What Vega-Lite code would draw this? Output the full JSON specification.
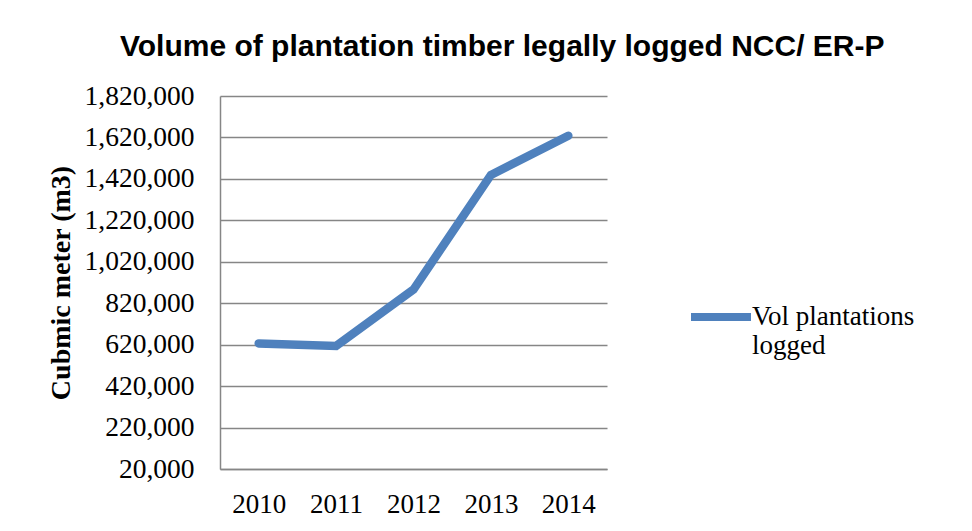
{
  "$schema": "https://vega.github.io/schema/vega-lite/v6.json",
  "autosize": {"type": "none"},
  "width": 387,
  "height": 373,
  "padding": {"left": 220, "top": 96, "right": 365, "bottom": 62},
  "background": "white",
  "title": {
    "text": "Volume of plantation timber legally logged NCC/ ER-P",
    "font": "Liberation Sans",
    "fontSize": 30,
    "fontWeight": "bold",
    "color": "#000000",
    "anchor": "start",
    "frame": "group",
    "dx": -100,
    "offset": 20
  },
  "data": {
    "values": [
      {"year": "2010", "volume": 626000, "series": "Vol plantations logged"},
      {"year": "2011", "volume": 614000, "series": "Vol plantations logged"},
      {"year": "2012", "volume": 886000, "series": "Vol plantations logged"},
      {"year": "2013", "volume": 1439000, "series": "Vol plantations logged"},
      {"year": "2014", "volume": 1628000, "series": "Vol plantations logged"}
    ]
  },
  "mark": {"type": "line", "strokeWidth": 8.5, "strokeCap": "round", "strokeJoin": "miter"},
  "encoding": {
    "x": {
      "field": "year",
      "type": "ordinal",
      "scale": {"type": "point", "padding": 0.5},
      "axis": {
        "title": null,
        "labelAngle": 0,
        "labelFont": "Liberation Serif",
        "labelFontSize": 27,
        "labelColor": "#000000",
        "labelBaseline": "top",
        "labelPadding": 22,
        "ticks": false,
        "tickSize": 0,
        "grid": false,
        "domainColor": "#868686",
        "domainWidth": 1.5
      }
    },
    "y": {
      "field": "volume",
      "type": "quantitative",
      "scale": {"domain": [20000, 1820000], "nice": false, "zero": false},
      "axis": {
        "title": "Cubmic meter (m3)",
        "titleFont": "Liberation Serif",
        "titleFontSize": 28,
        "titleFontWeight": "bold",
        "titleColor": "#000000",
        "titlePadding": 9,
        "values": [20000, 220000, 420000, 620000, 820000, 1020000, 1220000, 1420000, 1620000, 1820000],
        "format": ",d",
        "labelFont": "Liberation Serif",
        "labelFontSize": 27.5,
        "labelColor": "#000000",
        "labelPadding": 26,
        "ticks": false,
        "tickSize": 0,
        "grid": true,
        "gridColor": "#868686",
        "gridWidth": 1.5,
        "domainColor": "#868686",
        "domainWidth": 1.5
      }
    },
    "color": {
      "field": "series",
      "type": "nominal",
      "scale": {"range": ["#4f81bd"]},
      "legend": {
        "title": null,
        "orient": "none",
        "legendX": 467,
        "legendY": 187,
        "padding": 0,
        "symbolType": "stroke",
        "symbolSize": 3600,
        "symbolStrokeWidth": 8,
        "labelFont": "Liberation Serif",
        "labelFontSize": 27,
        "labelColor": "#000000",
        "labelOffset": -3,
        "labelLimit": 400,
        "labelExpr": "['Vol plantations', 'logged']"
      }
    }
  },
  "config": {
    "view": {"stroke": null}
  }
}
